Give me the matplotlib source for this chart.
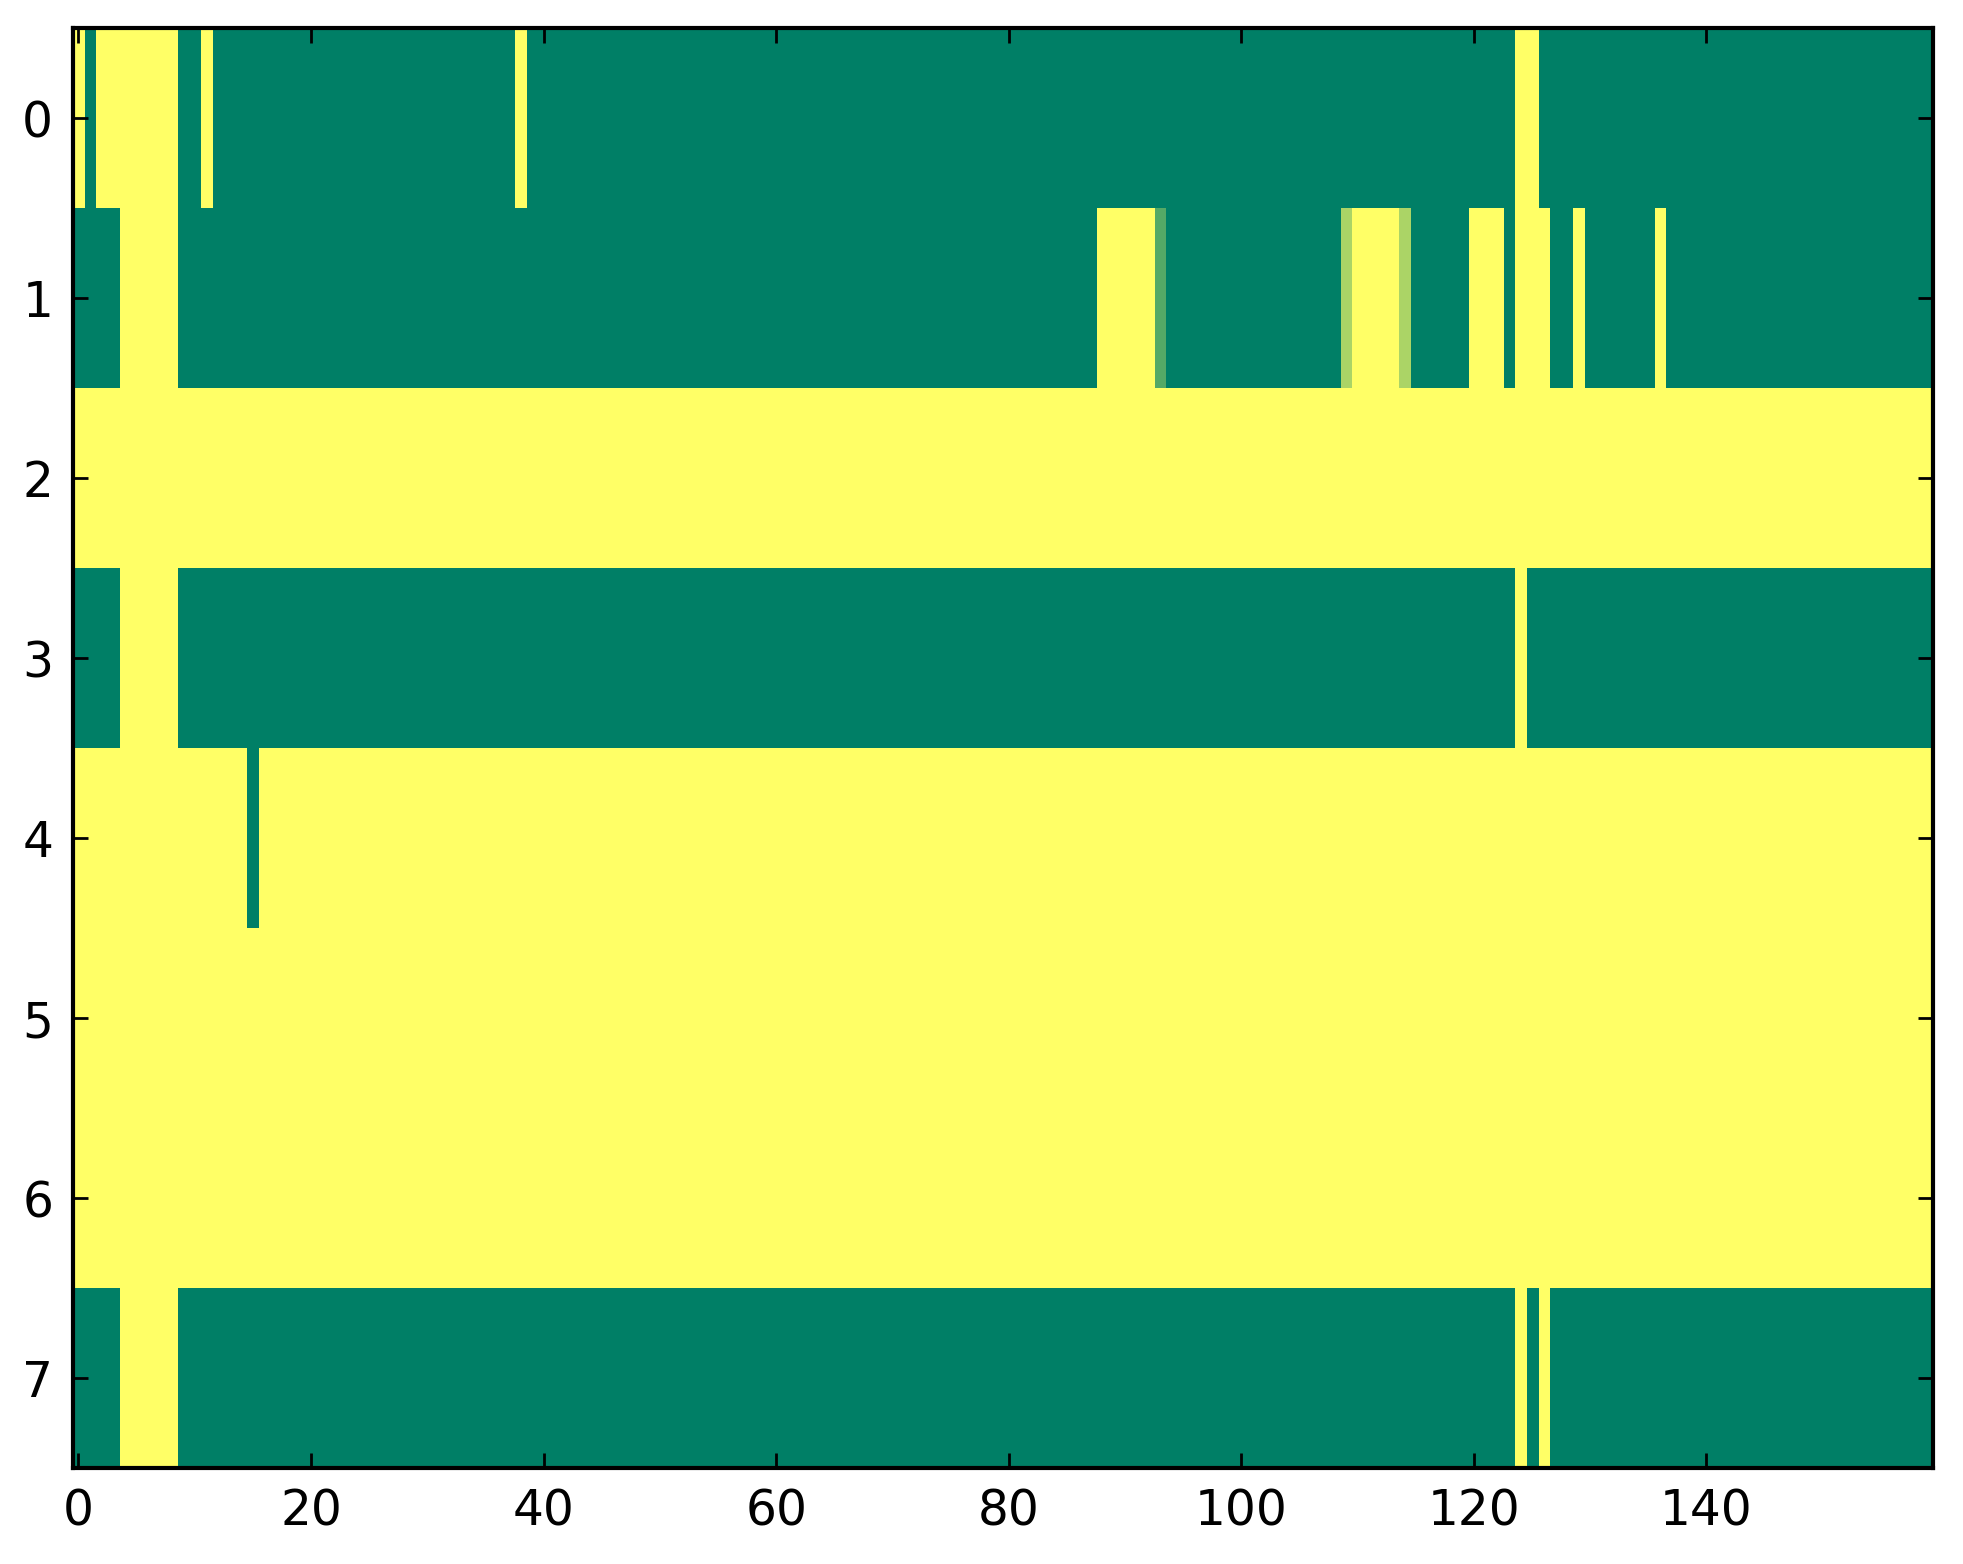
import matplotlib
matplotlib.use("Agg")
import matplotlib.pyplot as plt
import numpy as np

n_cols = 160

# columns that are "on" (value 1) in each row, everything else is 0
row0_on = [0] + list(range(2, 9)) + [11, 38, 124, 125]
row1_on = list(range(4, 9)) + list(range(88, 93)) + list(range(110, 114)) \
    + [120, 121, 122, 124, 125, 126, 129, 136]
row2_on = list(range(0, 160))
row3_on = list(range(4, 9)) + [124]
row4_on = [c for c in range(160) if c != 15]
row5_on = list(range(0, 160))
row6_on = list(range(0, 160))
row7_on = list(range(4, 9)) + [124, 126]

# a few cells in row 1 with in-between values
row1_partial = {93: 0.33, 109: 0.67, 114: 0.67}

rows_on = [row0_on, row1_on, row2_on, row3_on, row4_on, row5_on, row6_on, row7_on]

data = np.zeros((len(rows_on), n_cols))
for i, cols in enumerate(rows_on):
    data[i, cols] = 1.0
for c, v in row1_partial.items():
    data[1, c] = v

fig = plt.figure(figsize=(1963 / 200, 1564 / 200), dpi=200)
ax = fig.add_axes([0.0370, 0.0614, 0.9478, 0.9206])
ax.imshow(data, cmap="summer", aspect="auto", interpolation="nearest", vmin=0, vmax=1)

ax.set_xticks(np.arange(0, 141, 20))
ax.set_yticks(np.arange(0, 8, 1))
ax.tick_params(direction="in", length=5.5, width=1, top=True, right=True,
               labelsize=17.5, pad=7)
for s in ax.spines.values():
    s.set_linewidth(1.5)

fig.savefig("out.png", dpi=200)
